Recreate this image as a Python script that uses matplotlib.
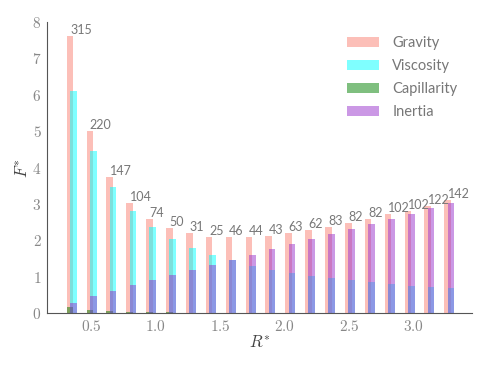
import matplotlib
matplotlib.use('Agg')
import matplotlib.pyplot as plt
import numpy as np
from matplotlib.ticker import FuncFormatter

plt.rcParams['mathtext.fontset'] = 'cm'
plt.rcParams['font.family'] = ['Lato', 'DejaVu Sans']

# data
r_star = [0.337 + 0.1541 * i for i in range(20)]
gravity = [7.61, 5.00, 3.74, 3.03, 2.60, 2.34, 2.19, 2.10, 2.08, 2.08,
           2.12, 2.20, 2.28, 2.38, 2.48, 2.58, 2.72, 2.82, 2.95, 3.10]
viscosity = [6.10, 4.47, 3.46, 2.82, 2.37, 2.03, 1.79, 1.59, 1.45, 1.31,
             1.19, 1.11, 1.03, 0.97, 0.91, 0.85, 0.81, 0.76, 0.72, 0.70]
capillarity = [0.17, 0.09, 0.055, 0.035, 0.025, 0.02, 0.015, 0.01, 0.01, 0.01,
               0.01, 0.01, 0.01, 0.01, 0.01, 0.01, 0.01, 0.01, 0.01, 0.01]
inertia = [0.29, 0.48, 0.62, 0.77, 0.92, 1.05, 1.19, 1.33, 1.47, 1.61,
           1.76, 1.90, 2.03, 2.18, 2.32, 2.45, 2.60, 2.73, 2.88, 3.03]
counts = [315, 220, 147, 104, 74, 50, 31, 25, 46, 44,
          43, 63, 62, 83, 82, 82, 102, 102, 122, 142]

x = np.array(r_star)
w = 0.052

fig = plt.figure(figsize=(4.9, 3.68), dpi=100)
ax = fig.add_axes([0.096, 0.149, 0.867, 0.791])

ax.bar(x, gravity, width=w, color='salmon', alpha=0.5, label='Gravity')
ax.bar(x + w / 2, viscosity, width=w, color='cyan', alpha=0.5, label='Viscosity')
ax.bar(x, capillarity, width=w, color='green', alpha=0.5, label='Capillarity')
ax.bar(x + w / 2, inertia, width=w, color='darkorchid', alpha=0.5, label='Inertia')

for xi, g, n in zip(x, gravity, counts):
    ax.text(xi, g, str(n), ha='left', va='bottom', fontsize=9, color='#777777')

ax.set_xlim(0.159, 3.453)
ax.set_ylim(0, 8)
ax.set_xticks([0.5, 1.0, 1.5, 2.0, 2.5, 3.0])
ax.set_yticks(range(0, 9))
ax.xaxis.set_major_formatter(FuncFormatter(lambda v, p: r'$%.1f$' % v))
ax.yaxis.set_major_formatter(FuncFormatter(lambda v, p: r'$%d$' % v))
ax.tick_params(length=0, labelsize=11, labelcolor='#888888', pad=4)

for s in ['top', 'right']:
    ax.spines[s].set_visible(False)
for s in ['left', 'bottom']:
    ax.spines[s].set_color('#555555')

ax.set_xlabel(r'$R^{*}$', fontsize=12, color='#444444', labelpad=0)
ax.set_ylabel(r'$F^{*}$', fontsize=12, color='#444444', labelpad=1)

leg = ax.legend(loc='upper right', frameon=False, fontsize=10.5, handlelength=2.2,
                handleheight=0.75, labelspacing=0.62, handletextpad=0.9,
                bbox_to_anchor=(0.997, 0.997))
for t in leg.get_texts():
    t.set_color('#777777')

fig.savefig('out.png', dpi=100)
